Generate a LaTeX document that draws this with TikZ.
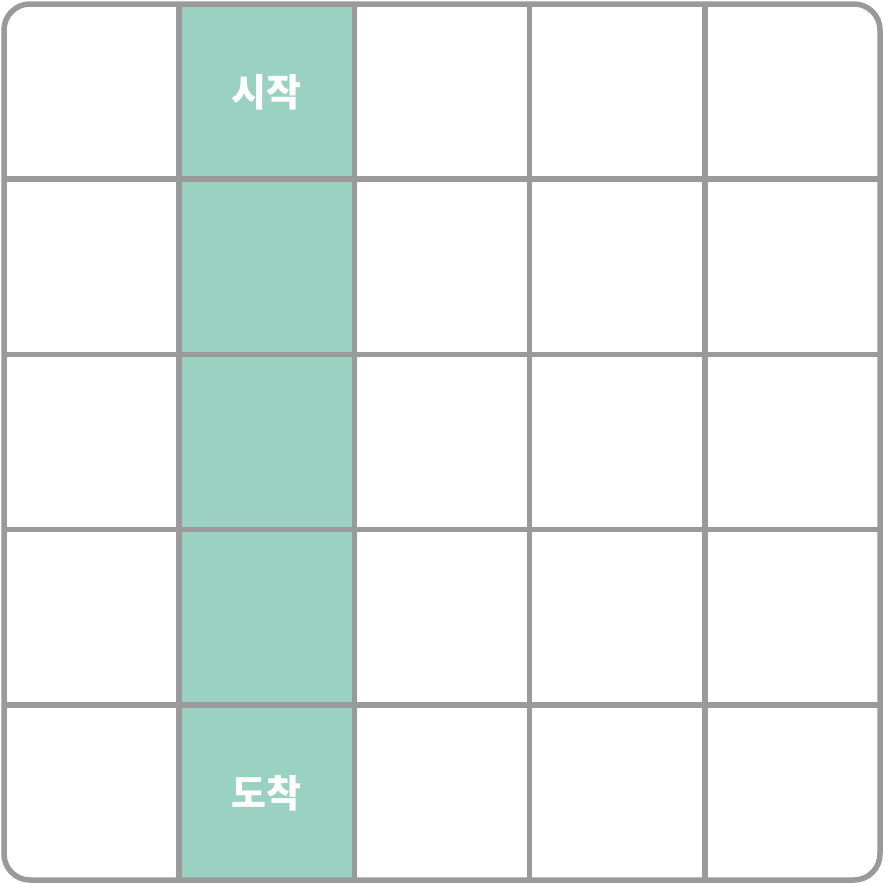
\documentclass[tikz,border=0pt]{standalone}
\usepackage{fontspec}
\newfontfamily\kr{Noto Sans CJK KR}
\definecolor{gridgray}{HTML}{9A9A9A}
\definecolor{mint}{HTML}{9BD1C0}
\tikzset{
  gridline/.style={draw=gridgray, line width=5.5pt},
  cellfill/.style={fill=mint, draw=none},
  celllabel/.style={text=white, font=\kr\bfseries\fontsize{38}{41}\selectfont, inner sep=0pt}
}
\begin{document}
\begin{tikzpicture}[x=1pt,y=-1pt]
\useasboundingbox (0,0) rectangle (884,884);
\fill[white] (0,0) rectangle (884,884);
\def\s{175.2}
% green column
\path[cellfill] (179.2,4) rectangle (354.4,880);
% labels
\node[celllabel] (start) at (266.5,92) {시작};
\node[celllabel] (goal) at (266.5,793) {도착};
% inner grid lines
\foreach \i in {1,2,3,4} {
  \draw[gridline] (4+\i*\s,4) -- (4+\i*\s,880);
  \draw[gridline] (4,4+\i*\s) -- (880,4+\i*\s);
}
% outer border
\draw[gridline, rounded corners=26pt] (4,4) rectangle (880,880);
\end{tikzpicture}
\end{document}
